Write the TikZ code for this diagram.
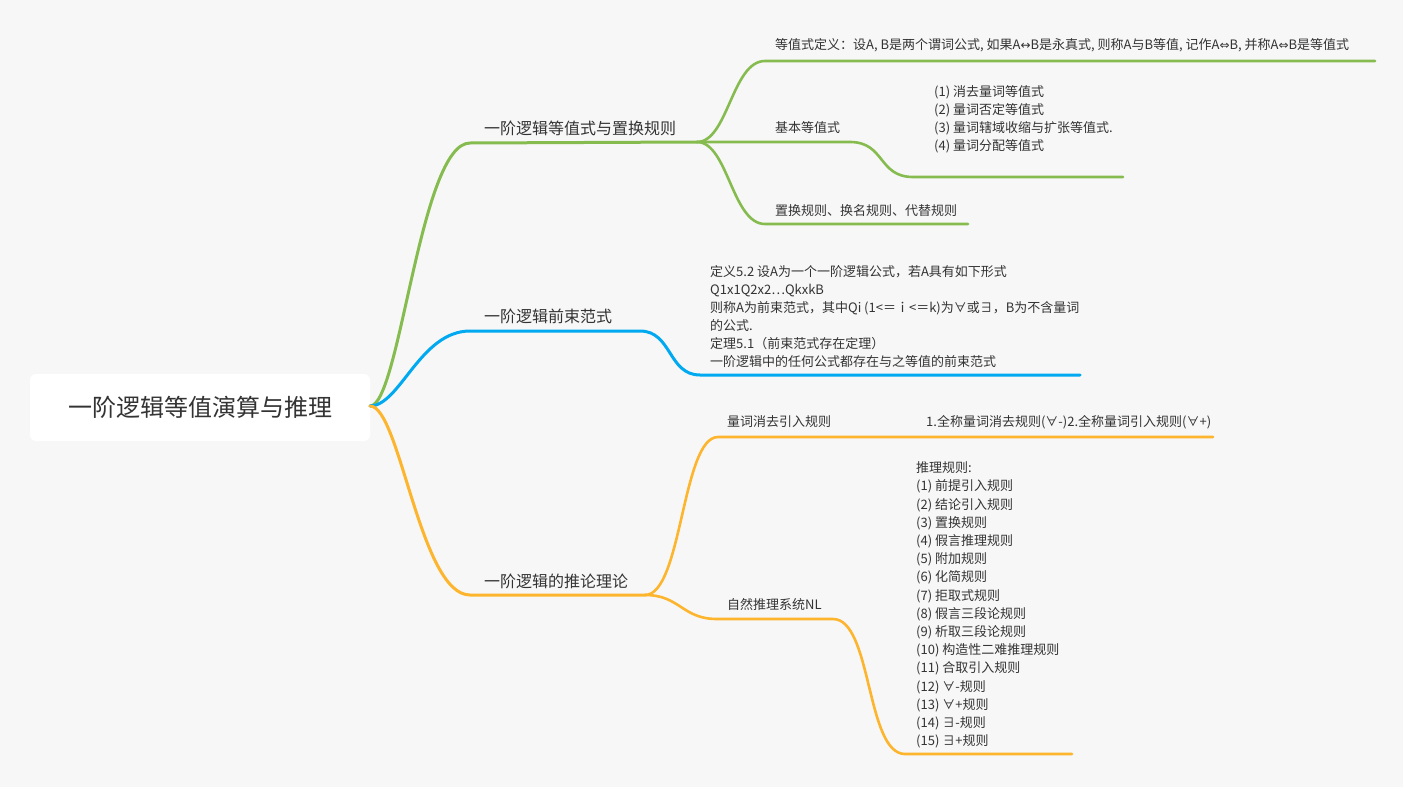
\documentclass[tikz,border=0pt]{standalone}
\usepackage{fontspec}
\setmainfont{Noto Sans CJK SC}
\newfontfamily\symf{DejaVu Sans}
\definecolor{bg}{HTML}{F7F7F7}
\definecolor{tc}{HTML}{333333}
\definecolor{cg}{HTML}{86BC4F}
\definecolor{cb}{HTML}{00A9F0}
\definecolor{co}{HTML}{FDB52D}
\newcommand{\lra}{{\symf\fontsize{12}{12}\selectfont ↔}}
\newcommand{\Lra}{{\symf\fontsize{12}{12}\selectfont ⇔}}
\begin{document}
\begin{tikzpicture}[x=1pt,y=-1pt,
  txt/.style={anchor=west,inner sep=0pt,align=left,text=tc,font=\fontsize{13}{18}\selectfont},
  lone/.style={anchor=west,inner sep=0pt,text=tc,font=\fontsize{16}{20}\selectfont},
  mainline/.style={line width=3pt,line cap=round},
  subline/.style={line width=2.6pt,line cap=round}]
\fill[bg] (0,0) rectangle (1403,787);
\useasboundingbox (0,0) rectangle (1403,787);

% root
\node[fill=white,rounded corners=6pt,minimum width=340pt,minimum height=67pt,inner sep=0pt,
  text=tc,font=\fontsize{24}{28}\selectfont] (root) at (200,407.5) {一阶逻辑等值演算与推理};

% coordinates
\coordinate (r) at (370,406);
\coordinate (g0) at (470,143); \coordinate (g1) at (697,142);
\coordinate (gA) at (765,61); \coordinate (gAe) at (1375,61);
\coordinate (gB) at (850,142); \coordinate (gB2) at (913,177); \coordinate (gBe) at (1123,177);
\coordinate (gC) at (765,224); \coordinate (gCe) at (968,224);
\coordinate (b0) at (470,331); \coordinate (b1) at (640,331); \coordinate (b2) at (700,375); \coordinate (be) at (1080,375);
\coordinate (o0) at (470,595); \coordinate (o1) at (645,595);
\coordinate (oA) at (718,437); \coordinate (oAe) at (1213,437);
\coordinate (oB) at (717,619); \coordinate (oB1) at (833,619); \coordinate (oB2) at (905,754); \coordinate (oBe) at (1072,754);

% green
\draw[cg,mainline] (r) .. controls (400,406) and (420,143) .. (g0) -- (g1);
\draw[cg,subline] (g1) .. controls (728,142) and (732,61) .. (gA) -- (gAe);
\draw[cg,subline] (g1) -- (gB) .. controls (885,142) and (878,177) .. (gB2) -- (gBe);
\draw[cg,subline] (g1) .. controls (728,142) and (732,224) .. (gC) -- (gCe);

% blue
\draw[cb,mainline] (r) .. controls (400,406) and (420,331) .. (b0) -- (b1) .. controls (672,331) and (668,375) .. (b2) -- (be);

% orange
\draw[co,mainline] (r) .. controls (400,406) and (420,595) .. (o0) -- (o1);
\draw[co,subline] (o1) .. controls (682,595) and (682,437) .. (oA) -- (oAe);
\draw[co,subline] (o1) .. controls (680,595) and (682,619) .. (oB) -- (oB1) .. controls (872,619) and (866,754) .. (oB2) -- (oBe);

% level 1 labels
\node[lone] (t1) at (484,128) {一阶逻辑等值式与置换规则};
\node[lone] (t2) at (484,316) {一阶逻辑前束范式};
\node[lone] (t3) at (484,581) {一阶逻辑的推论理论};

% green children
\node[txt] (dy) at (775,45) {等值式定义：设A, B是两个谓词公式, 如果A\lra B是永真式, 则称A与B等值, 记作A\Lra B, 并称A\Lra B是等值式};
\node[txt] (jb) at (775,128) {基本等值式};
\node[txt] (jbl) at (934,119) {(1) 消去量词等值式\\(2) 量词否定等值式\\(3) 量词辖域收缩与扩张等值式.\\(4) 量词分配等值式};
\node[txt] (zh) at (775,211) {置换规则、换名规则、代替规则};

% blue child
\node[txt] (qs) at (710,317) {定义5.2 设A为一个一阶逻辑公式，若A具有如下形式\\Q1x1Q2x2…QkxkB\\则称A为前束范式，其中Qi (1<＝ｉ<＝k)为∀或∃，B为不含量词\\的公式.\\定理5.1（前束范式存在定理）\\一阶逻辑中的任何公式都存在与之等值的前束范式};

% orange children
\node[txt] (lc) at (727,422) {量词消去引入规则};
\node[txt] (lcr) at (926,422) {1.全称量词消去规则(∀-)2.全称量词引入规则(∀+)};
\node[txt] (nl) at (727,605) {自然推理系统NL};
\node[txt,font=\fontsize{13}{18.2}\selectfont] (nll) at (916,605) {推理规则:\\(1) 前提引入规则\\(2) 结论引入规则\\(3) 置换规则\\(4) 假言推理规则\\(5) 附加规则\\(6) 化简规则\\(7) 拒取式规则\\(8) 假言三段论规则\\(9) 析取三段论规则\\(10) 构造性二难推理规则\\(11) 合取引入规则\\(12) ∀-规则\\(13) ∀+规则\\(14) ∃-规则\\(15) ∃+规则};
\end{tikzpicture}
\end{document}
